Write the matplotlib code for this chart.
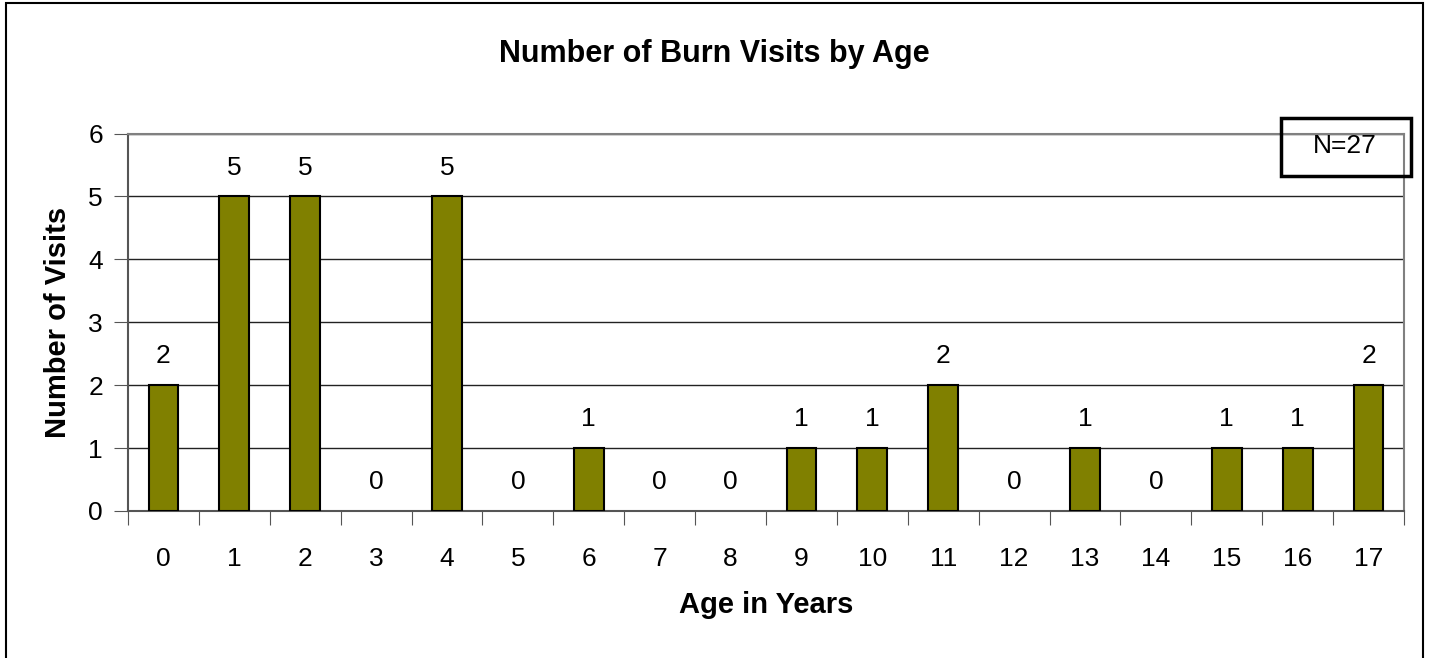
import numpy as np
import matplotlib.pyplot as plt
from matplotlib.patches import Rectangle

plt.rcParams['font.family'] = ['Liberation Sans', 'DejaVu Sans']

ages = [str(a) for a in range(18)]
visits = [2, 5, 5, 0, 5, 0, 1, 0, 0, 1, 1, 2, 0, 1, 0, 1, 1, 2]
total_label = "N=27"

W, H = 1429, 658
fig = plt.figure(figsize=(W / 100, H / 100), dpi=100)
ax = fig.add_axes([128 / W, 1 - 511 / H, (1404 - 128) / W, (511 - 133.5) / H])

x = np.arange(len(ages))
edges = ['black' if v > 0 else 'none' for v in visits]
ax.bar(x, visits, width=0.42, color='#808000', edgecolor=edges, linewidth=1.5, zorder=3)

for xi, v in zip(x, visits):
    ax.annotate(str(v), (xi, v), xytext=(0, 12), textcoords='offset points',
                ha='center', va='bottom', fontsize=19)

ax.set_xlim(-0.5, len(ages) - 0.5)
ax.set_ylim(0, 6)
ax.set_yticks(range(7))
ax.yaxis.grid(True, color='#222222', linewidth=1, zorder=0)

# ticks at category boundaries, labels at centres
ax.set_xticks(np.arange(-0.5, len(ages), 1.0))
ax.set_xticklabels([])
ax.set_xticks(x, minor=True)
ax.set_xticklabels(ages, minor=True)
ax.tick_params(axis='x', which='major', length=10, color='#555555')
ax.tick_params(axis='x', which='minor', length=0, labelsize=19, pad=26)
ax.tick_params(axis='y', length=10, color='#555555', labelsize=19, pad=8)

for s in ax.spines.values():
    s.set_color('#808080')
    s.set_linewidth(1.5)
ax.spines['left'].set_color('#555555')
ax.spines['bottom'].set_color('#555555')

ax.set_xlabel("Age in Years", fontsize=21, fontweight='bold', labelpad=14)
ax.set_ylabel("Number of Visits", fontsize=21, fontweight='bold', labelpad=12)
fig.text(0.5, 1 - 54 / H, "Number of Burn Visits by Age", ha='center', va='center',
         fontsize=22, fontweight='bold')

# N box
fig.patches.append(Rectangle((1281 / W, 1 - 176 / H), 130 / W, 58 / H, transform=fig.transFigure,
                             facecolor='none', edgecolor='black', linewidth=2.5, zorder=5))
fig.text(1345 / W, 1 - 146 / H, total_label, ha='center', va='center', fontsize=19)

# outer chart border
fig.patches.append(Rectangle((6 / W, -0.05), 1417 / W, 1.05 - 3 / H, transform=fig.transFigure,
                             facecolor='none', edgecolor='black', linewidth=1.5))

fig.savefig("out.png", dpi=100)
